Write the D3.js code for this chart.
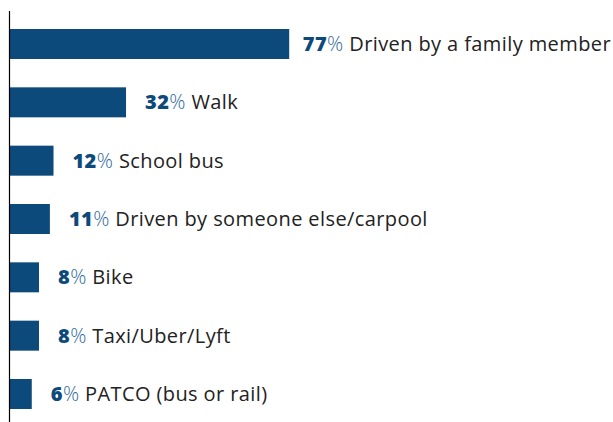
<!DOCTYPE html>
<html>
<head>
<meta charset="utf-8">
<script src="https://cdn.jsdelivr.net/npm/d3@7"></script>
<style>
  html, body { margin: 0; padding: 0; background: #fff; }
  svg { display: block; }
  text { font-family: "Open Sans", "Noto Sans", sans-serif; }
</style>
</head>
<body>
<svg id="chart" width="613" height="422"></svg>
<script>
const categories = ["Driven by a family member", "Walk", "School bus", "Driven by someone else/carpool", "Bike", "Taxi/Uber/Lyft", "PATCO (bus or rail)"];
const values = [77, 32, 12, 11, 8, 8, 6];

const W = 613, H = 422;
const svg = d3.select("#chart");

const x = d3.scaleLinear().domain([0, 100]).range([10, 372.6]);
const y = d3.scaleBand().domain(categories).range([29, 409]).paddingInner(0.4857).paddingOuter(0);

const data = categories.map((c, i) => ({ cat: c, val: values[i] }));

svg.selectAll("rect.bar").data(data).join("rect")
  .attr("class", "bar")
  .attr("x", x(0))
  .attr("y", d => y(d.cat))
  .attr("width", d => x(d.val) - x(0))
  .attr("height", y.bandwidth())
  .attr("fill", "#0c4a7b");

// axis line
svg.append("line")
  .attr("x1", 9.5).attr("x2", 9.5)
  .attr("y1", 11).attr("y2", H)
  .attr("stroke", "#000").attr("stroke-width", 1.2);

const labels = svg.selectAll("text.lab").data(data).join("text")
  .attr("class", "lab")
  .attr("y", d => y(d.cat) + y.bandwidth() / 2 + 7)
  .attr("font-size", 20)
  .attr("letter-spacing", 0.4)
  .attr("fill", "#222");

labels.append("tspan").attr("font-weight", 800).attr("fill", "#0c4a7b").text(d => d.val);
labels.append("tspan").attr("font-weight", 300).attr("fill", "#2f6a9c").text("%");
labels.append("tspan").attr("font-weight", 400).attr("fill", "#222").text(d => " " + d.cat);

labels.each(function(d) {
  const tw = this.getComputedTextLength();
  let xx = x(d.val) + 19;
  if (xx + tw > W - 4) xx = Math.min(x(d.val) + 14, W - 2 - tw);
  d3.select(this).attr("x", xx);
});
</script>
</body>
</html>
